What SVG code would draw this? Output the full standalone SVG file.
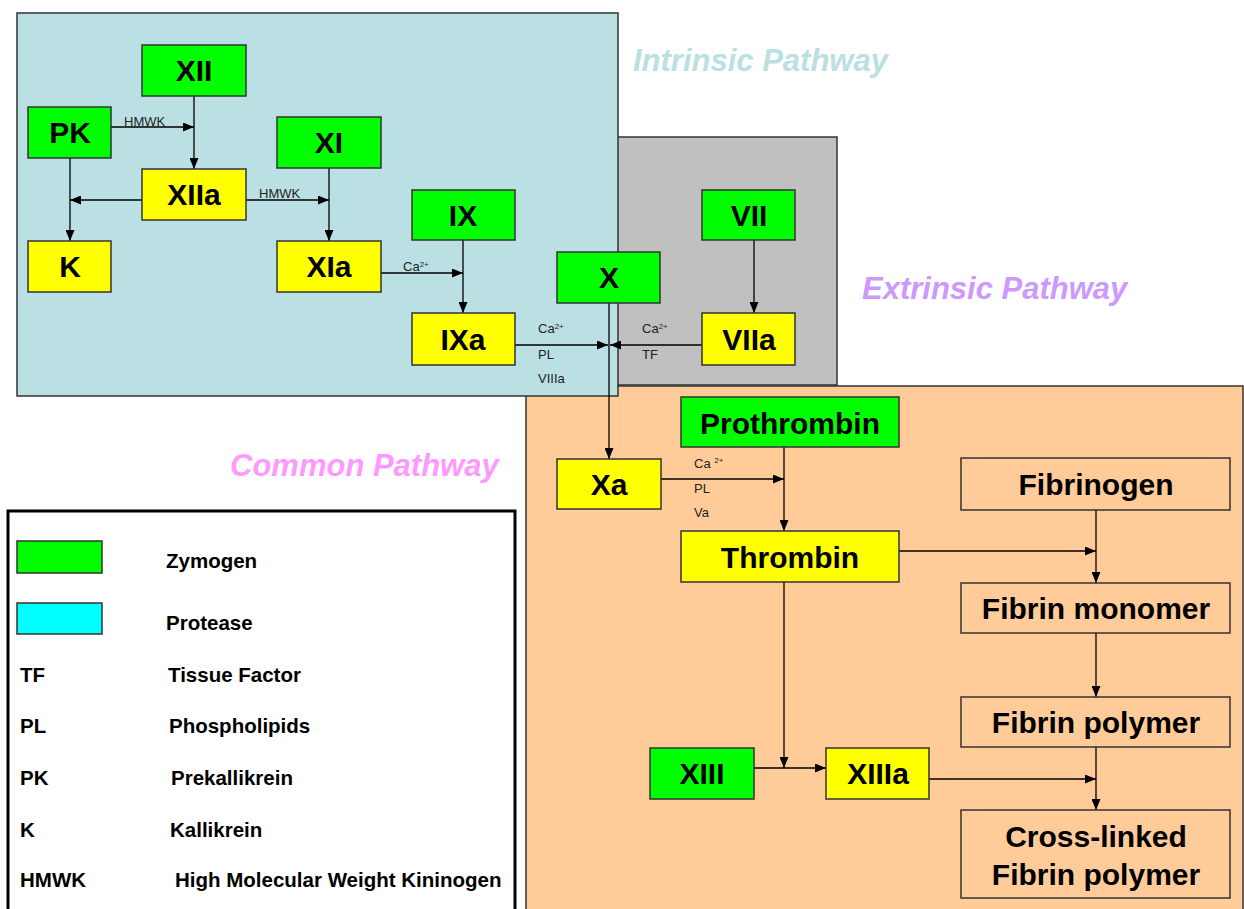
<svg xmlns="http://www.w3.org/2000/svg" width="1244" height="909" viewBox="0 0 1244 909">
<style>
text{font-family:"Liberation Sans",Arial,sans-serif;fill:#000}
.z{fill:#00FF00;stroke:#333;stroke-width:1.5}
.p{fill:#FFFF00;stroke:#333;stroke-width:1.5}
.f{fill:#FFCC99;stroke:#333;stroke-width:1.5}
.n{font-size:30px;font-weight:bold;text-anchor:middle}
.s{font-size:13px;fill:#222}
.sup{font-size:8px}
.lg{font-size:20.5px;font-weight:bold}
.title{font-size:31px;font-weight:bold;font-style:italic}
.c line,.c polyline{stroke:#000;stroke-width:1.3;fill:none}
.a{marker-end:url(#ah)}
</style>
<defs>
<marker id="ah" markerUnits="userSpaceOnUse" markerWidth="11" markerHeight="9" refX="11" refY="4.5" orient="auto">
<path d="M0,0 L11,4.5 L0,9 z" fill="#000"/>
</marker>
</defs>
<rect width="1244" height="909" fill="#fff"/>
<g id="regions">
<rect x="526" y="386" width="717" height="540" fill="#FFCC99" stroke="#333" stroke-width="1.5"/>
<rect x="612" y="137" width="225" height="248" fill="#C0C0C0" stroke="#333" stroke-width="1.5"/>
<rect x="17" y="13" width="601" height="383" fill="#BBE0E3" stroke="#333" stroke-width="1.5"/>
</g>
<g id="titles">
<text class="title" x="633" y="71" style="fill:#BBE0E3">Intrinsic Pathway</text>
<text class="title" x="862" y="299" style="fill:#CC99FF">Extrinsic Pathway</text>
<text class="title" x="230" y="476" style="fill:#FF99FF">Common Pathway</text>
</g>
<g id="connectors" class="c">
<line class="a" x1="111" y1="127" x2="194" y2="127"/>
<line class="a" x1="194" y1="96" x2="194" y2="169"/>
<line class="a" x1="142" y1="200" x2="70" y2="200"/>
<line class="a" x1="70" y1="158" x2="70" y2="241"/>
<line class="a" x1="246" y1="200" x2="329" y2="200"/>
<line class="a" x1="329" y1="168" x2="329" y2="241"/>
<line class="a" x1="381" y1="273" x2="463" y2="273"/>
<line class="a" x1="463" y1="240" x2="463" y2="313"/>
<line class="a" x1="515" y1="345" x2="608" y2="345"/>
<line class="a" x1="702" y1="345" x2="610" y2="345"/>
<line class="a" x1="754" y1="240" x2="754" y2="313"/>
<line class="a" x1="609" y1="303" x2="609" y2="459"/>
<line class="a" x1="661" y1="479" x2="784" y2="479"/>
<line class="a" x1="784" y1="447" x2="784" y2="531"/>
<line class="a" x1="899" y1="551" x2="1096" y2="551"/>
<line class="a" x1="1096" y1="510" x2="1096" y2="583"/>
<line class="a" x1="1096" y1="633" x2="1096" y2="697"/>
<line class="a" x1="784" y1="582" x2="784" y2="768"/>
<line class="a" x1="754" y1="768" x2="826" y2="768"/>
<line class="a" x1="929" y1="779" x2="1096" y2="779"/>
<line class="a" x1="1096" y1="747" x2="1096" y2="810"/>
</g>
<g id="connector-labels">
<text class="s" x="124" y="126">HMWK</text>
<text class="s" x="259" y="198">HMWK</text>
<text class="s" x="403" y="271">Ca<tspan class="sup" dy="-4">2+</tspan></text>
<text class="s" x="538" y="333">Ca<tspan class="sup" dy="-4">2+</tspan></text>
<text class="s" x="538" y="359">PL</text>
<text class="s" x="538" y="383">VIIIa</text>
<text class="s" x="642" y="333">Ca<tspan class="sup" dy="-4">2+</tspan></text>
<text class="s" x="642" y="359">TF</text>
<text class="s" x="694" y="468">Ca <tspan class="sup" dy="-5">2+</tspan></text>
<text class="s" x="694" y="493">PL</text>
<text class="s" x="694" y="517">Va</text>
</g>
<g id="XII"><rect class="z" x="142" y="45" width="104" height="51"/><text class="n" x="194" y="81">XII</text></g>
<g id="PK"><rect class="z" x="28" y="107" width="83" height="51"/><text class="n" x="70" y="143">PK</text></g>
<g id="XIIa"><rect class="p" x="142" y="169" width="104" height="51"/><text class="n" x="194" y="205">XIIa</text></g>
<g id="XI"><rect class="z" x="277" y="117" width="104" height="51"/><text class="n" x="329" y="153">XI</text></g>
<g id="K"><rect class="p" x="28" y="241" width="83" height="51"/><text class="n" x="70" y="277">K</text></g>
<g id="XIa"><rect class="p" x="277" y="241" width="104" height="51"/><text class="n" x="329" y="277">XIa</text></g>
<g id="IX"><rect class="z" x="412" y="190" width="103" height="50"/><text class="n" x="463" y="226">IX</text></g>
<g id="IXa"><rect class="p" x="412" y="313" width="103" height="52"/><text class="n" x="463" y="350">IXa</text></g>
<g id="X"><rect class="z" x="557" y="252" width="103" height="51"/><text class="n" x="609" y="288">X</text></g>
<g id="VII"><rect class="z" x="702" y="190" width="93" height="50"/><text class="n" x="749" y="226">VII</text></g>
<g id="VIIa"><rect class="p" x="702" y="313" width="93" height="52"/><text class="n" x="749" y="350">VIIa</text></g>
<g id="Prothrombin"><rect class="z" x="681" y="397" width="218" height="50"/><text class="n" x="790" y="434">Prothrombin</text></g>
<g id="Xa"><rect class="p" x="557" y="459" width="104" height="50"/><text class="n" x="609" y="495">Xa</text></g>
<g id="Thrombin"><rect class="p" x="681" y="531" width="218" height="51"/><text class="n" x="790" y="568">Thrombin</text></g>
<g id="Fibrinogen"><rect class="f" x="961" y="458" width="269" height="52"/><text class="n" x="1096" y="495">Fibrinogen</text></g>
<g id="FibrinMonomer"><rect class="f" x="961" y="583" width="269" height="50"/><text class="n" x="1096" y="619">Fibrin monomer</text></g>
<g id="FibrinPolymer"><rect class="f" x="961" y="697" width="269" height="50"/><text class="n" x="1096" y="733">Fibrin polymer</text></g>
<g id="XIII"><rect class="z" x="650" y="748" width="104" height="51"/><text class="n" x="702" y="784">XIII</text></g>
<g id="XIIIa"><rect class="p" x="826" y="748" width="103" height="51"/><text class="n" x="878" y="784">XIIIa</text></g>
<g id="CrossLinked"><rect class="f" x="961" y="810" width="269" height="88"/><text class="n" x="1096" y="847">Cross-linked</text><text class="n" x="1096" y="885">Fibrin polymer</text></g>
<g id="legend">
<rect x="8" y="511" width="507" height="420" fill="#fff" stroke="#000" stroke-width="3"/>
<rect x="17" y="541" width="85" height="32" fill="#00FF00" stroke="#333" stroke-width="1.5"/>
<rect x="17" y="603" width="85" height="31" fill="#00FFFF" stroke="#333" stroke-width="1.5"/>
<text class="lg" x="166" y="568">Zymogen</text>
<text class="lg" x="166" y="630">Protease</text>
<text class="lg" x="20" y="682">TF</text><text class="lg" x="168" y="682">Tissue Factor</text>
<text class="lg" x="20" y="733">PL</text><text class="lg" x="169" y="733">Phospholipids</text>
<text class="lg" x="20" y="785">PK</text><text class="lg" x="171" y="785">Prekallikrein</text>
<text class="lg" x="20" y="837">K</text><text class="lg" x="170" y="837">Kallikrein</text>
<text class="lg" x="20" y="887">HMWK</text><text class="lg" x="175" y="887">High Molecular Weight Kininogen</text>
</g>
</svg>
